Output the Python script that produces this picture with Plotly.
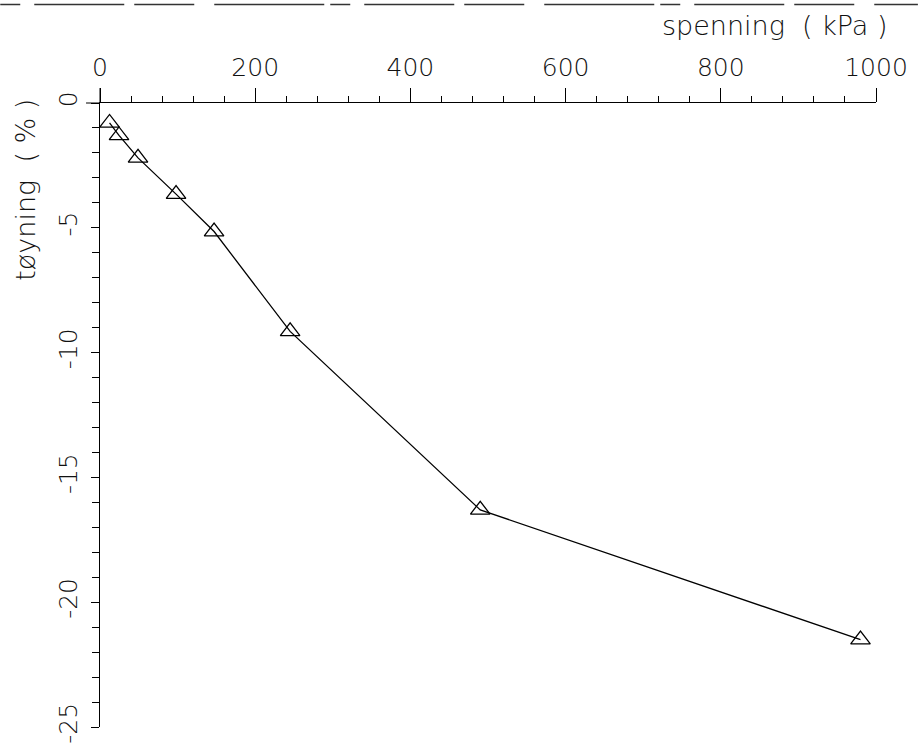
import plotly.graph_objects as go

# Data
spenning_kpa = [12.3, 24.5, 49, 98, 147, 245, 490, 980]
toyning_pct = [-0.8, -1.3, -2.2, -3.65, -5.15, -9.15, -16.3, -21.5]

x_tickvals = [0, 200, 400, 600, 800, 1000]
x_ticktext = ["0", "200", "400", "600", "800", "1000"]
y_tickvals = [0, -5, -10, -15, -20, -25]
y_ticktext = ["0", "-5", "-10", "-15", "-20", "-25"]

W, H = 920, 756
L, R, T, B = 100, 42, 103, 26
pw, ph = W - L - R, H - T - B

FONT = "DejaVu Sans, Liberation Sans, sans-serif"

fig = go.Figure()
fig.add_trace(go.Scatter(
    x=spenning_kpa, y=toyning_pct,
    mode="lines+markers",
    line=dict(color="black", width=1.3),
    marker=dict(symbol="triangle-up-open", size=17, color="black",
                line=dict(color="black", width=1.3)),
    showlegend=False, cliponaxis=False,
))

fig.update_layout(
    width=W, height=H,
    margin=dict(l=L, r=R, t=T, b=B),
    paper_bgcolor="white", plot_bgcolor="white",
    font=dict(family=FONT, size=25, color="#111", weight=300),
    xaxis=dict(
        range=[0, 1000], side="top", showgrid=False, zeroline=False,
        showline=True, linecolor="black", linewidth=1,
        ticks="outside", ticklen=14, tickwidth=1, tickcolor="black",
        tickvals=x_tickvals, ticktext=x_ticktext,
        tickfont=dict(family=FONT, size=25, color="#111", weight=300),
        ticklabelstandoff=2,
        minor=dict(dtick=40, tick0=0, ticks="outside", ticklen=6,
                   tickwidth=1, tickcolor="black", showgrid=False),
    ),
    yaxis=dict(
        range=[-25, 0], showgrid=False, zeroline=False,
        showline=True, linecolor="black", linewidth=1,
        ticks="outside", ticklen=8, tickwidth=1, tickcolor="black",
        tickvals=y_tickvals, ticktext=y_ticktext, tickangle=-90,
        tickfont=dict(family=FONT, size=25, color="#111", weight=300),
        ticklabelstandoff=4,
        minor=dict(dtick=1, tick0=0, ticks="outside", ticklen=7,
                   tickwidth=1, tickcolor="black", showgrid=False),
    ),
)

# axis extensions beyond the origin (crosshair look)
fig.add_shape(type="line", xref="paper", yref="paper",
              x0=0, x1=0, y0=1, y1=1 + 15 / ph,
              line=dict(color="black", width=1))
fig.add_shape(type="line", xref="paper", yref="paper",
              x0=-14 / pw, x1=0, y0=1, y1=1,
              line=dict(color="black", width=1))
# scan artifact: broken line along the top edge
fig.add_shape(type="line", xref="paper", yref="paper",
              x0=-L / pw, x1=(W - L) / pw,
              y0=1 + (T - 4) / ph, y1=1 + (T - 4) / ph,
              line=dict(color="#333", width=1.5,
                        dash="20px,14px,90px,10px,60px,20px,110px,6px"))

fig.add_annotation(
    text="spenning  ( kPa )", xref="paper", yref="paper",
    x=(892 - L) / pw, y=1 + (T - 25) / ph,
    xanchor="right", yanchor="middle", showarrow=False,
    font=dict(family=FONT, size=27, color="#111", weight=300),
)
fig.add_annotation(
    text="tøyning  ( % )", xref="paper", yref="paper",
    x=(25 - L) / pw, y=1 - (190 - T) / ph,
    xanchor="center", yanchor="middle", textangle=-90, showarrow=False,
    font=dict(family=FONT, size=27, color="#111", weight=300),
)

fig.write_html("out.html")
